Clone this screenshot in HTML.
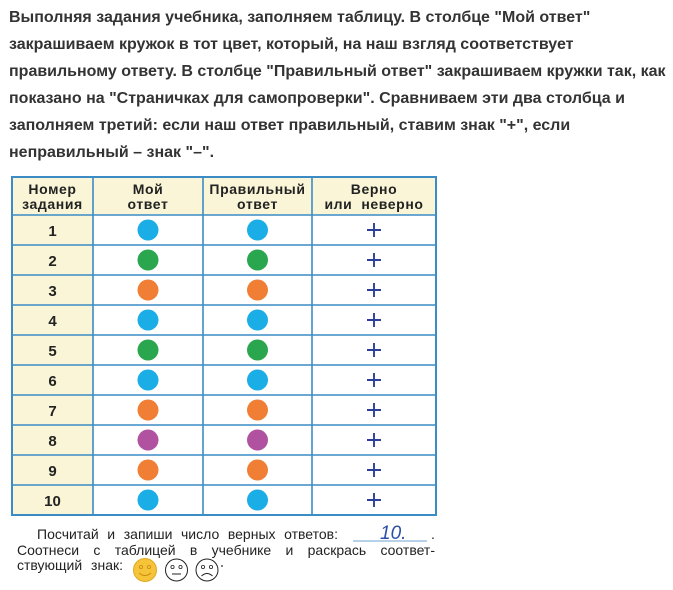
<!DOCTYPE html>
<html><head><meta charset="utf-8">
<style>
html,body{margin:0;padding:0;background:#fff;}
body{width:673px;height:590px;position:relative;overflow:hidden;font-family:"Liberation Sans","DejaVu Sans",sans-serif;}
.p{position:absolute;left:9px;top:4px;font-weight:bold;font-size:16px;line-height:27px;color:#333;white-space:nowrap;}
.b{position:absolute;font-size:14px;line-height:15px;height:15px;color:#222;}
.j{text-align:justify;text-align-last:justify;}
svg{position:absolute;left:0;top:0;}
</style></head><body>
<div class="p">Выполняя задания учебника, заполняем таблицу. В столбце "Мой ответ"<br>закрашиваем кружок в тот цвет, который, на наш взгляд соответствует<br>правильному ответу. В столбце "Правильный ответ" закрашиваем кружки так, как<br>показано на "Страничках для самопроверки". Сравниваем эти два столбца и<br>заполняем третий: если наш ответ правильный, ставим знак "+", если<br>неправильный – знак "–".</div>

<svg width="673" height="590" viewBox="0 0 673 590" xmlns="http://www.w3.org/2000/svg" font-family="Liberation Sans, DejaVu Sans, sans-serif">
  <rect x="12" y="177" width="424" height="38" fill="#faf5d6"/>
  <rect x="12" y="215" width="81" height="300" fill="#faf5d6"/>
  <g stroke="#3b8cc5" stroke-width="1.6" fill="none">
    <rect x="12" y="177" width="424" height="338" stroke-width="2"/>
    <line x1="93" y1="177" x2="93" y2="515"/>
    <line x1="203" y1="177" x2="203" y2="515"/>
    <line x1="312" y1="177" x2="312" y2="515"/>
    <line x1="12" y1="215" x2="436" y2="215"/>
    <line x1="12" y1="245" x2="436" y2="245"/>
    <line x1="12" y1="275" x2="436" y2="275"/>
    <line x1="12" y1="305" x2="436" y2="305"/>
    <line x1="12" y1="335" x2="436" y2="335"/>
    <line x1="12" y1="365" x2="436" y2="365"/>
    <line x1="12" y1="395" x2="436" y2="395"/>
    <line x1="12" y1="425" x2="436" y2="425"/>
    <line x1="12" y1="455" x2="436" y2="455"/>
    <line x1="12" y1="485" x2="436" y2="485"/>
  </g>
  <g font-weight="bold" font-size="14" fill="#222" text-anchor="middle" letter-spacing="0.6">
    <text x="52.5" y="194">Номер</text>
    <text x="52.5" y="209">задания</text>
    <text x="148" y="194">Мой</text>
    <text x="148" y="209">ответ</text>
    <text x="257.5" y="194">Правильный</text>
    <text x="257.5" y="209">ответ</text>
    <text x="374" y="194">Верно</text>
    <text x="374" y="209" xml:space="preserve">или  неверно</text>
  </g>
  <g font-weight="bold" font-size="15" fill="#222" text-anchor="middle">
    <text x="52.5" y="236">1</text>
    <text x="52.5" y="266">2</text>
    <text x="52.5" y="296">3</text>
    <text x="52.5" y="326">4</text>
    <text x="52.5" y="356">5</text>
    <text x="52.5" y="386">6</text>
    <text x="52.5" y="416">7</text>
    <text x="52.5" y="446">8</text>
    <text x="52.5" y="476">9</text>
    <text x="52.5" y="506">10</text>
  </g>
  <g>
    <circle cx="148" cy="230" r="10.5" fill="#1aade6"/><circle cx="257.5" cy="230" r="10.5" fill="#1aade6"/>
    <circle cx="148" cy="260" r="10.5" fill="#2aa64f"/><circle cx="257.5" cy="260" r="10.5" fill="#2aa64f"/>
    <circle cx="148" cy="290" r="10.5" fill="#f07f35"/><circle cx="257.5" cy="290" r="10.5" fill="#f07f35"/>
    <circle cx="148" cy="320" r="10.5" fill="#1aade6"/><circle cx="257.5" cy="320" r="10.5" fill="#1aade6"/>
    <circle cx="148" cy="350" r="10.5" fill="#2aa64f"/><circle cx="257.5" cy="350" r="10.5" fill="#2aa64f"/>
    <circle cx="148" cy="380" r="10.5" fill="#1aade6"/><circle cx="257.5" cy="380" r="10.5" fill="#1aade6"/>
    <circle cx="148" cy="410" r="10.5" fill="#f07f35"/><circle cx="257.5" cy="410" r="10.5" fill="#f07f35"/>
    <circle cx="148" cy="440" r="10.5" fill="#b0529f"/><circle cx="257.5" cy="440" r="10.5" fill="#b0529f"/>
    <circle cx="148" cy="470" r="10.5" fill="#f07f35"/><circle cx="257.5" cy="470" r="10.5" fill="#f07f35"/>
    <circle cx="148" cy="500" r="10.5" fill="#1aade6"/><circle cx="257.5" cy="500" r="10.5" fill="#1aade6"/>
  </g>
  <g stroke="#2b3f9c" stroke-width="1.9">
    <path d="M367 230h14M374 223v14"/>
    <path d="M367 260h14M374 253v14"/>
    <path d="M367 290h14M374 283v14"/>
    <path d="M367 320h14M374 313v14"/>
    <path d="M367 350h14M374 343v14"/>
    <path d="M367 380h14M374 373v14"/>
    <path d="M367 410h14M374 403v14"/>
    <path d="M367 440h14M374 433v14"/>
    <path d="M367 470h14M374 463v14"/>
    <path d="M367 500h14M374 493v14"/>
  </g>
  <text x="431" y="539" font-size="14" fill="#222">.</text>
  <line x1="353" y1="541" x2="427" y2="541" stroke="#6fa3d3" stroke-width="1"/>
  <text x="380" y="539" font-size="19" font-style="italic" fill="#2b4ea8">10.</text>
  <g>
    <circle cx="145" cy="570" r="11.5" fill="#f6c438" stroke="#e0a820" stroke-width="1"/>
    <circle cx="141" cy="567" r="1.6" fill="none" stroke="#c98a10" stroke-width="0.8"/>
    <circle cx="149" cy="567" r="1.6" fill="none" stroke="#c98a10" stroke-width="0.8"/>
    <path d="M139 573q6 5 12 0" fill="none" stroke="#c98a10" stroke-width="0.9"/>
    <circle cx="176.5" cy="570" r="11" fill="#fff" stroke="#222" stroke-width="1"/>
    <circle cx="172.5" cy="567" r="1.6" fill="none" stroke="#222" stroke-width="0.8"/>
    <circle cx="180.5" cy="567" r="1.6" fill="none" stroke="#222" stroke-width="0.8"/>
    <path d="M172 574h9" stroke="#222" stroke-width="1"/>
    <circle cx="207" cy="570" r="11" fill="#fff" stroke="#222" stroke-width="1"/>
    <circle cx="203" cy="567" r="1.6" fill="none" stroke="#222" stroke-width="0.8"/>
    <circle cx="211" cy="567" r="1.6" fill="none" stroke="#222" stroke-width="0.8"/>
    <path d="M201.5 576q5.5 -5 11 0" fill="none" stroke="#222" stroke-width="1"/>
    <circle cx="222" cy="566" r="0.9" fill="#222"/>
  </g>
</svg>
<div class="b j" style="left:37px;top:527px;width:301px;">Посчитай и запиши число верных ответов:</div>
<div class="b j" style="left:17px;top:543px;width:418px;">Соотнеси с таблицей в учебнике и раскрась соответ-</div>
<div class="b j" style="left:17px;top:558px;width:106px;">ствующий знак:</div>
</body></html>
